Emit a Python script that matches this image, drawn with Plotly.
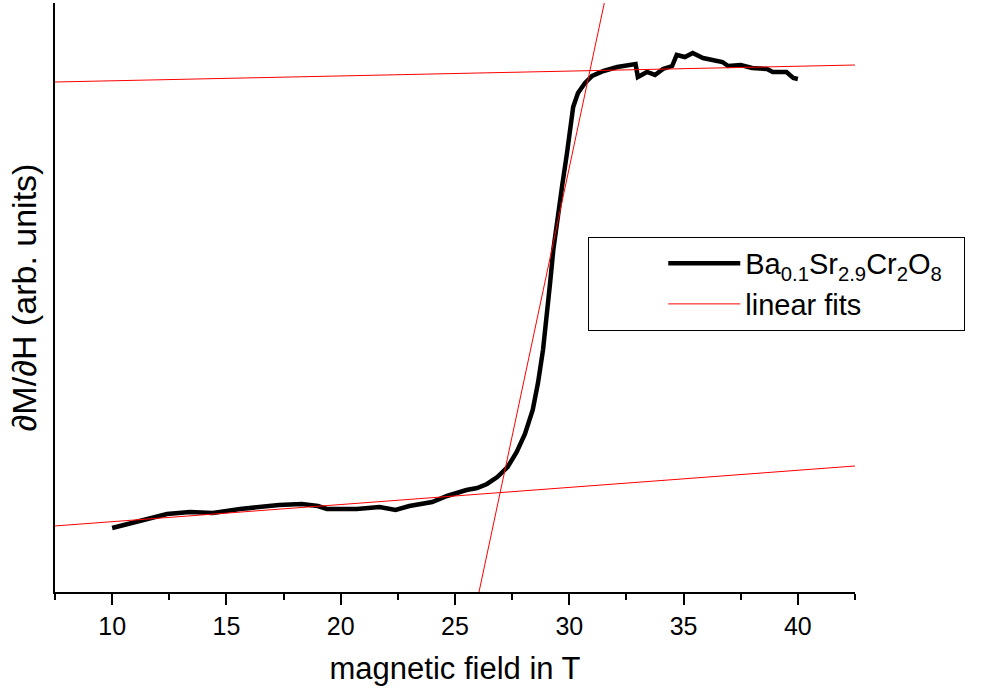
import plotly.graph_objects as go

# Measured derivative dM/dH (arb. units) vs magnetic field (T)
field = [10.0, 10.5, 11.25, 12.4, 13.4, 14.4, 15.6, 16.3, 17.3, 18.3, 19.0, 19.4,
         20.7, 21.7, 22.4, 23.0, 23.6, 24.0, 24.65, 25.5, 25.97, 26.4, 26.85, 27.3,
         27.7, 28.06, 28.4, 28.63, 28.85, 29.02, 29.16, 29.3, 29.46, 29.68, 29.9,
         30.03, 30.17, 30.38, 30.69, 31.0, 31.5, 32.1, 32.5, 32.9, 33.0, 33.4,
         33.75, 34.1, 34.5, 34.7, 35.06, 35.4, 35.85, 36.3, 36.7, 36.95, 37.5,
         38.0, 38.65, 38.9, 39.5, 39.8, 40.0]
dMdH = [1.087, 1.138, 1.205, 1.324, 1.358, 1.341, 1.409, 1.443, 1.477, 1.494, 1.460, 1.409,
        1.409, 1.443, 1.392, 1.460, 1.511, 1.528, 1.630, 1.732, 1.766, 1.834, 1.952, 2.122,
        2.377, 2.683, 3.090, 3.548, 4.109, 4.669, 5.246, 5.806, 6.316, 6.876, 7.453,
        7.895, 8.234, 8.472, 8.642, 8.761, 8.846, 8.913, 8.947, 8.964, 8.744, 8.829,
        8.778, 8.880, 8.930, 9.117, 9.083, 9.151, 9.066, 9.032, 8.998, 8.930, 8.947,
        8.896, 8.880, 8.829, 8.829, 8.727, 8.710]

# Linear fits: slope, intercept, x-extent
fit_slopes = [0.00823, 0.02909, 1.824]
fit_intercepts = [8.597, 0.903, -47.515]
fit_xmin = [7.5, 7.5, 25.9]
fit_xmax = [42.5, 42.5, 31.8]

x_ticks = [10, 15, 20, 25, 30, 35, 40]

fx, fy = [], []
for s, b, x0, x1 in zip(fit_slopes, fit_intercepts, fit_xmin, fit_xmax):
    fx += [x0, x1, None]
    fy += [s * x0 + b, s * x1 + b, None]

FONT = "Arial, Liberation Sans, sans-serif"

fig = go.Figure()
fig.add_trace(go.Scatter(
    x=field, y=dMdH, mode="lines",
    line=dict(color="black", width=4.5),
    name="Ba<sub>0.1</sub>Sr<sub>2.9</sub>Cr<sub>2</sub>O<sub>8</sub>\u00a0\u00a0",
))
fig.add_trace(go.Scatter(
    x=fx, y=fy, mode="lines",
    line=dict(color="red", width=1),
    name="linear fits",
))

fig.update_layout(
    width=988, height=692,
    margin=dict(l=55, r=133, t=3, b=100),
    plot_bgcolor="white", paper_bgcolor="white",
    font=dict(family=FONT, color="black"),
    showlegend=True,
    legend=dict(
        x=0.666, y=0.603, xanchor="left", yanchor="top",
        bordercolor="black", borderwidth=1, bgcolor="white",
        font=dict(size=29, family=FONT),
        itemwidth=72,
        tracegroupgap=0,
        title=dict(text="\u00a0" * 8, side="left", font=dict(size=29, family=FONT)),
    ),
)
fig.update_xaxes(
    range=[7.5, 42.5],
    tickvals=x_ticks,
    ticks="outside", ticklen=11, tickwidth=2, tickcolor="black",
    minor=dict(dtick=2.5, tick0=7.5, ticks="outside", ticklen=6, tickwidth=2, tickcolor="black"),
    showline=True, linecolor="black", linewidth=2,
    showgrid=False, zeroline=False,
    tickfont=dict(size=25, family=FONT),
    title=dict(text="magnetic field in T", font=dict(size=31, family=FONT), standoff=18),
)
fig.update_yaxes(
    range=[0, 10],
    showticklabels=False, ticks="",
    showline=True, linecolor="black", linewidth=2,
    showgrid=False, zeroline=False,
    title=dict(text="∂M/∂H (arb. units)", font=dict(size=34, family=FONT), standoff=6),
)

fig.write_html("out.html")
